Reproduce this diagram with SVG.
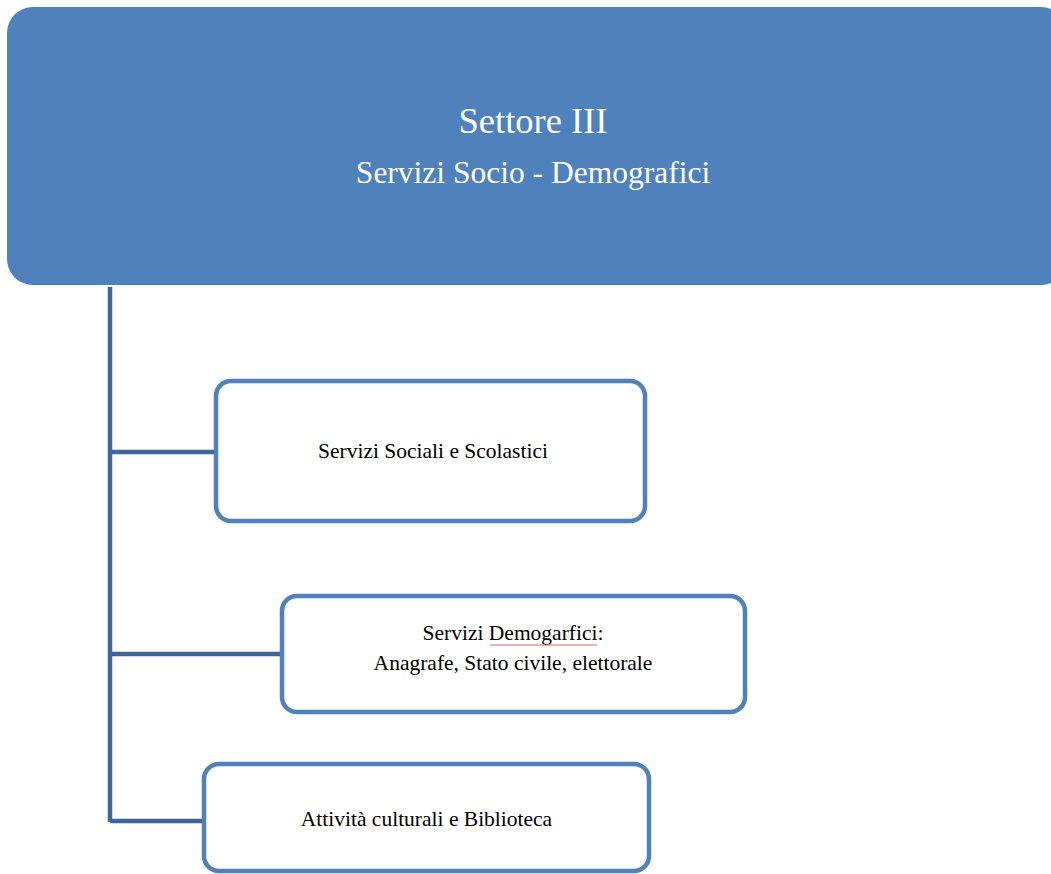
<svg xmlns="http://www.w3.org/2000/svg" width="1051" height="874" viewBox="0 0 1051 874">
<style>
.box{fill:#fff;stroke:#4F81BD;stroke-width:4.5}
.conn{stroke:#3D6699;stroke-width:4.5;fill:none}
.t{font-family:"Liberation Serif","Times New Roman",serif;fill:#000;text-anchor:middle;font-size:21.5px}
.h{font-family:"Liberation Serif","Times New Roman",serif;fill:#fff;text-anchor:middle}
</style>
<rect width="1051" height="874" fill="#fff"/>
<g id="head">
<rect x="7" y="7" width="1060" height="278" rx="26" ry="26" fill="#4F81BD"/>
<text class="h" x="533" y="133" font-size="36.5">Settore III</text>
<text class="h" x="533" y="183" font-size="31.5">Servizi Socio - Demografici</text>
</g>
<g id="connectors">
<path class="conn" d="M110,287 V822"/>
<path class="conn" d="M110,452 H216"/>
<path class="conn" d="M110,654 H282"/>
<path class="conn" d="M110,821 H204"/>
</g>
<g id="n1">
<rect class="box" x="216" y="381" width="429" height="140" rx="15" ry="15"/>
<text class="t" x="433" y="458">Servizi Sociali e Scolastici</text>
</g>
<g id="n2">
<rect class="box" x="282" y="596" width="463" height="116" rx="15" ry="15"/>
<text class="t" x="513" y="640">Servizi Demogarfici:</text>
<path d="M490,645 H597" stroke="#E06666" stroke-width="1" fill="none"/>
<text class="t" x="513" y="670">Anagrafe, Stato civile, elettorale</text>
</g>
<g id="n3">
<rect class="box" x="204" y="764" width="445" height="107" rx="15" ry="15"/>
<text class="t" x="426.5" y="826">Attività culturali e Biblioteca</text>
</g>
</svg>
